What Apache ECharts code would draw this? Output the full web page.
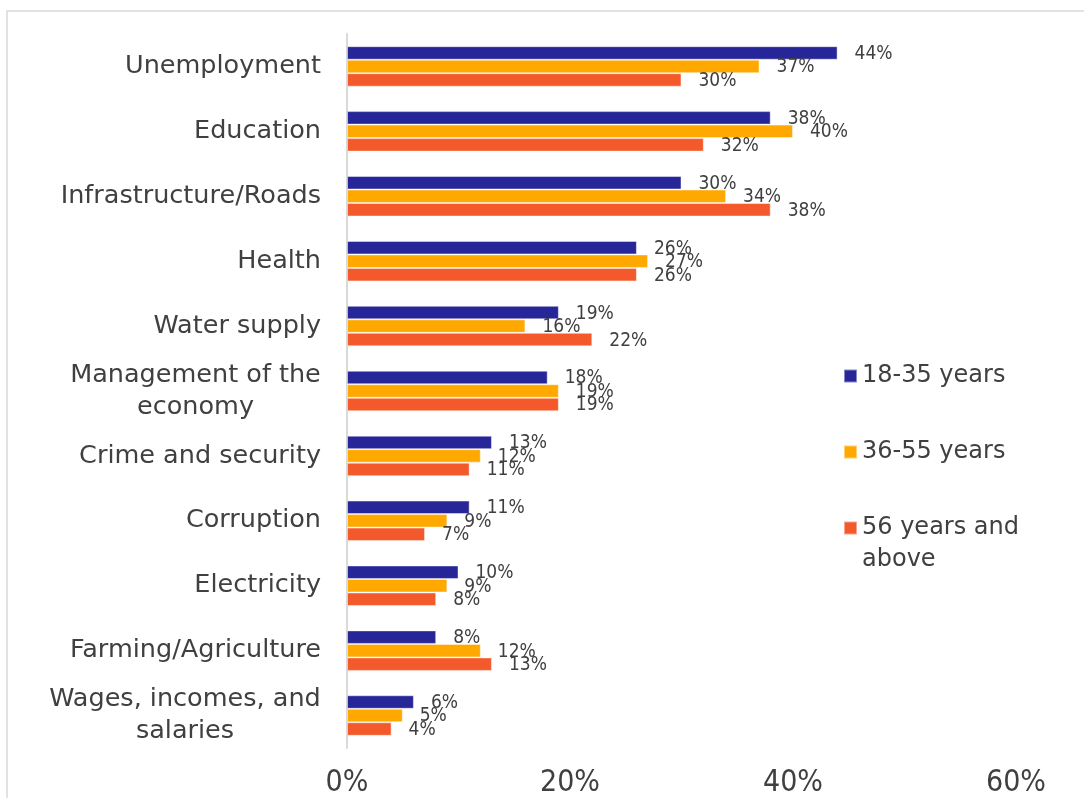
<!DOCTYPE html>
<html>
<head>
<meta charset="utf-8">
<script src="https://cdn.jsdelivr.net/npm/echarts@6/dist/echarts.min.js"></script>
<style>
  html, body { margin: 0; padding: 0; background: #fff; }
  #chart { width: 1084px; height: 798px; }
</style>
</head>
<body>
<div id="chart"></div>
<script>
// categories, top to bottom
const categories = [
  'Unemployment',
  'Education',
  'Infrastructure/Roads',
  'Health',
  'Water supply',
  'Management of the\neconomy',
  'Crime and security',
  'Corruption',
  'Electricity',
  'Farming/Agriculture',
  'Wages, incomes, and\nsalaries',
]

const seriesNames = ['18-35 years', '36-55 years', '56 years and above']

const young = [44, 38, 30, 26, 19, 18, 13, 11, 10, 8, 6]
const middle = [37, 40, 34, 27, 16, 19, 12, 9, 9, 12, 5]
const older = [30, 32, 38, 26, 22, 19, 11, 7, 8, 13, 4]

const xTicks = [0, 20, 40, 60]

const colors = ['#262698', '#ffa800', '#f4592b']
const textColor = '#404040'
const mainFont = 'DejaVu Sans'
const narrowFont = '"Liberation Sans Narrow", "DejaVu Sans Condensed", sans-serif'
const catFontSize = 25.5

// measure text so two-line category labels can be centred line by line
const measureCtx = document.createElement('canvas').getContext('2d')
measureCtx.font = catFontSize + 'px ' + mainFont
const textWidth = (s) => Math.ceil(measureCtx.measureText(s).width)

const catLabel = (value) => {
  const lines = value.split('\n')
  if (lines.length === 1) return value
  const w = Math.max(...lines.map(textWidth))
  return lines.map((l) => `{c${w}|${l}}`).join('\n')
}

const catRich = {}
categories.forEach((c) => {
  const lines = c.split('\n')
  if (lines.length > 1) {
    const w = Math.max(...lines.map(textWidth))
    catRich['c' + w] = {
      width: w,
      align: 'center',
      fontFamily: mainFont,
      fontSize: catFontSize,
      lineHeight: 32,
      color: textColor,
    }
  }
})

const chart = echarts.init(document.getElementById('chart'))

const barSeries = (name, data, color) => ({
  name,
  type: 'bar',
  data,
  barWidth: 13.5,
  barGap: '0%',
  itemStyle: {
    color,
    borderColor: 'rgba(255,255,255,0.45)',
    borderWidth: 1,
  },
  label: {
    show: true,
    position: 'right',
    distance: 17,
    offset: [0, 1],
    formatter: '{c}%',
    fontFamily: narrowFont,
    fontSize: 19,
    color: textColor,
  },
})

const legendBase = {
  orient: 'vertical',
  left: 843,
  padding: 0,
  itemWidth: 13,
  itemHeight: 13,
  icon: 'rect',
  textStyle: {
    fontFamily: mainFont,
    fontSize: 24,
    lineHeight: 32,
    color: textColor,
  },
}

const option = {
  animation: false,
  backgroundColor: '#fff',
  graphic: [
    {
      type: 'rect',
      shape: { x: 7, y: 11, width: 1200, height: 900 },
      style: { fill: 'none', stroke: '#d9d9d9', lineWidth: 1.5 },
      silent: true,
    },
  ],
  legend: [
    Object.assign({}, legendBase, {
      top: 360,
      data: [seriesNames[0]],
    }),
    Object.assign({}, legendBase, {
      top: 436,
      data: [seriesNames[1]],
    }),
    Object.assign({}, legendBase, {
      top: 480,
      data: [seriesNames[2]],
      // blank first line keeps the marker level with "56 years and"
      formatter: () => ' \n56 years and\nabove',
    }),
  ],
  grid: {
    left: 347,
    right: 68,
    top: 34,
    bottom: 46,
  },
  xAxis: {
    type: 'value',
    min: xTicks[0],
    max: xTicks[xTicks.length - 1],
    interval: xTicks[1] - xTicks[0],
    axisLine: { show: false },
    axisTick: { show: false },
    splitLine: { show: false },
    axisLabel: {
      formatter: '{value}%',
      fontFamily: narrowFont,
      fontSize: 30,
      color: textColor,
      margin: 20,
    },
  },
  yAxis: {
    type: 'category',
    inverse: true,
    data: categories,
    axisLine: { show: true, lineStyle: { color: '#d9d9d9', width: 2 } },
    axisTick: { show: false },
    axisLabel: {
      fontFamily: mainFont,
      fontSize: catFontSize,
      lineHeight: 32,
      color: textColor,
      margin: 26,
      align: 'right',
      formatter: catLabel,
      rich: catRich,
    },
  },
  series: [
    barSeries(seriesNames[0], young, colors[0]),
    barSeries(seriesNames[1], middle, colors[1]),
    barSeries(seriesNames[2], older, colors[2]),
  ],
}

chart.setOption(option)
</script>
</body>
</html>
